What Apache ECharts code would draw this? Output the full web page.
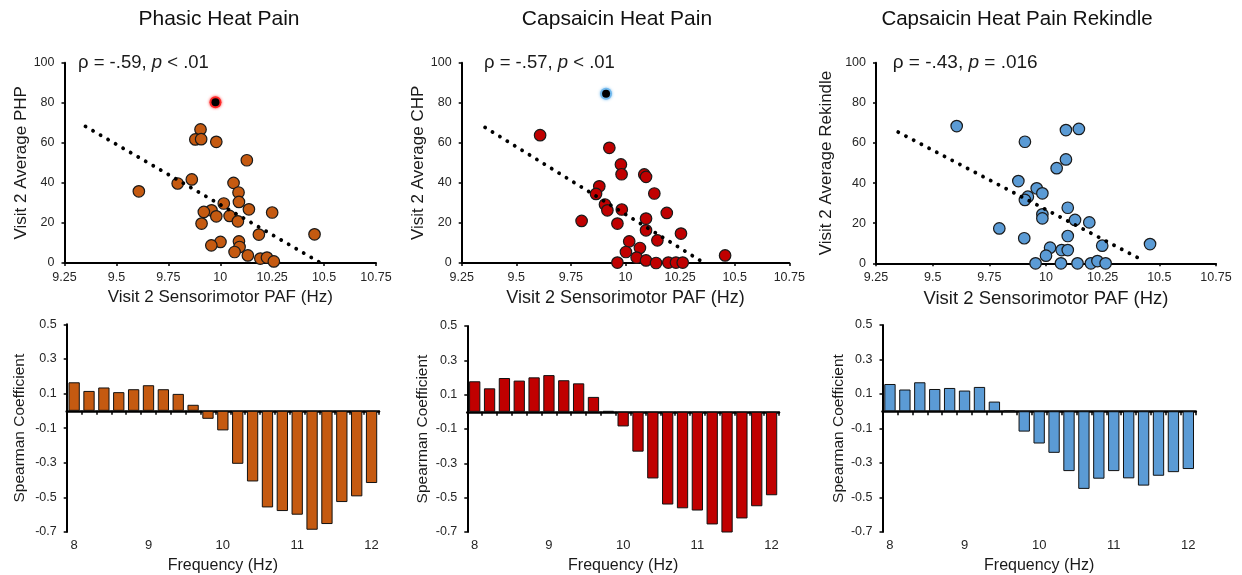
<!DOCTYPE html>
<html>
<head>
<meta charset="utf-8">
<script src="https://cdn.jsdelivr.net/npm/echarts@6/dist/echarts.min.js"></script>
<style>
  html, body { margin: 0; padding: 0; background: #fff; }
  #chart { width: 1242px; height: 575px; }
</style>
</head>
<body>
<div id="chart"></div>
<script>
// ---- Scatter data: Visit 2 sensorimotor PAF (Hz) vs. average pain rating ----
const phpPoints = [[9.905,66.7],[9.88,61.7],[9.908,61.8],[9.981,60.5],[10.128,51.3],[9.863,41.7],[9.795,39.7],[9.608,35.8],[10.064,40],[10.088,35.2],[10.09,30.5],[10.017,29.7],[10.138,26.8],[10.25,25.2],[9.958,26.3],[9.921,25.5],[9.981,23.3],[10.045,23.5],[10.085,20.8],[9.91,19.7],[10.186,14.2],[10.454,14.3],[10.09,10.8],[10.001,10.5],[9.957,8.8],[10.093,8],[10.069,5.5],[10.133,3.8],[10.193,2.2],[10.225,2.7],[10.258,0.8]];
const phpOutlier = [[9.977,80.2]];
const phpTrend = [[9.351,68.2],[10.476,0.5]];

const chpPoints = [[9.926,57.5],[9.609,63.8],[9.799,21],[9.979,49.2],[9.982,44.3],[10.086,44.2],[10.094,43],[10.132,34.7],[9.88,38.3],[9.865,34.5],[9.906,29.2],[9.917,26.3],[9.983,26.7],[9.963,19.7],[10.094,22.2],[10.094,16.3],[10.189,25],[10.146,11.3],[10.254,14.7],[10.017,10.8],[10.066,7.5],[10.002,5.5],[10.051,2.7],[10.094,1.3],[9.963,0.2],[10.14,0],[10.196,0.2],[10.231,0.2],[10.262,0.2],[10.456,3.8]];
const chpOutlier = [[9.911,84.5]];
const chpTrend = [[9.357,67.7],[10.353,0.5]];

const rekPoints = [[10.088,66.4],[10.145,67],[9.907,60.6],[10.088,51.8],[10.047,47.4],[9.878,41],[9.959,37.4],[9.984,34.9],[9.92,33.2],[9.907,31.6],[10.096,27.7],[9.984,24.4],[9.984,22.4],[10.128,21.6],[10.191,20.4],[9.794,17.4],[9.904,12.5],[10.096,13.6],[10.248,8.8],[10.018,7.8],[10.069,6.6],[10.096,6.6],[10,3.8],[9.954,0],[10.066,0],[10.139,0],[10.198,0],[10.227,1.1],[10.263,0],[9.606,68.4],[10.459,9.6]];
const rekTrend = [[9.348,65.4],[10.43,1.3]];

// ---- Spearman coefficient by frequency bin ----
const freqBins = ['8','8.2','8.4','8.6','8.8','9','9.2','9.4','9.6','9.8','10','10.2','10.4','10.6','10.8','11','11.2','11.4','11.6','11.8','12'];
const phpRho = [0.165,0.115,0.135,0.108,0.125,0.148,0.125,0.098,0.035,-0.046,-0.113,-0.306,-0.408,-0.558,-0.579,-0.6,-0.687,-0.654,-0.527,-0.494,-0.417];
const chpRho = [0.178,0.137,0.197,0.182,0.201,0.214,0.184,0.166,0.087,0.005,-0.085,-0.232,-0.388,-0.54,-0.562,-0.575,-0.656,-0.706,-0.621,-0.55,-0.486];
const rekRho = [0.158,0.126,0.168,0.129,0.135,0.12,0.141,0.056,0.002,-0.118,-0.187,-0.241,-0.347,-0.45,-0.391,-0.347,-0.389,-0.431,-0.374,-0.353,-0.335];
const rhoTicks = [0.5, 0.3, 0.1, -0.1, -0.3, -0.5, -0.7];

// ---- Text ----
const panelTitles = ['Phasic Heat Pain', 'Capsaicin Heat Pain', 'Capsaicin Heat Pain Rekindle'];
const yNames = ['Visit 2 Average PHP', 'Visit 2 Average CHP', 'Visit 2 Average Rekindle'];
const xName = 'Visit 2 Sensorimotor PAF (Hz)';
const statText = [['-.59', '<', '.01'], ['-.57', '<', '.01'], ['-.43', '=', '.016']];

const FONT = "'Liberation Sans', Arial, sans-serif";
const ORANGE = '#C55A11', RED = '#C00000', BLUE = '#5B9BD5';
const colors = [ORANGE, RED, BLUE];

const scatterGrids = [
  { left: 64.5, top: 62.7, width: 311.5, height: 200.3 },
  { left: 461.7, top: 62.7, width: 327.6, height: 200.3 },
  { left: 876, top: 62.7, width: 340, height: 200.6 }
];
const barGrids = [
  { left: 66.7, top: 324.3, width: 312.3, height: 208 },
  { left: 467.3, top: 326, width: 311.7, height: 207.3 },
  { left: 882.5, top: 325, width: 313.3, height: 208.3 }
];
const nameFont = [17, 18, 18.5];
const yNameGap = [30, 34, 41];
const barYNameGap = [39, 37, 36];

const grid = [], xAxis = [], yAxis = [], series = [];
const axisLineStyle = { color: '#000', width: 2 };
const tickLabel = { color: '#262626', fontSize: 12.5, fontFamily: FONT };

// Scatter panels
scatterGrids.forEach((g, i) => {
  grid.push(g);
  xAxis.push({
    type: 'value', gridIndex: i, min: 9.25, max: 10.75, interval: 0.25,
    axisLine: { show: true, onZero: false, lineStyle: axisLineStyle },
    axisTick: { show: true, length: 3, lineStyle: { color: '#000', width: 1.5 } },
    axisLabel: Object.assign({ margin: 8 }, tickLabel),
    splitLine: { show: false },
    name: xName, nameLocation: 'middle', nameGap: 26,
    nameTextStyle: { fontSize: nameFont[i], color: '#1a1a1a', fontFamily: FONT }
  });
  yAxis.push({
    type: 'value', gridIndex: i, min: 0, max: 100, interval: 20,
    axisLine: { show: true, onZero: false, lineStyle: axisLineStyle },
    axisTick: { show: true, length: 3, lineStyle: { color: '#000', width: 1.5 } },
    axisLabel: Object.assign({ margin: 10 }, tickLabel),
    splitLine: { show: false },
    name: yNames[i], nameLocation: 'middle', nameGap: yNameGap[i], nameRotate: 90,
    nameTextStyle: { fontSize: 17, color: '#1a1a1a', fontFamily: FONT }
  });
});

const pointSets = [phpPoints, chpPoints, rekPoints];
const trendSets = [phpTrend, chpTrend, rekTrend];
pointSets.forEach((pts, i) => {
  series.push({
    type: 'scatter', xAxisIndex: i, yAxisIndex: i, data: pts,
    symbol: 'circle', symbolSize: 11.5, z: 2,
    itemStyle: { color: colors[i], borderColor: '#1a1a1a', borderWidth: 1.2, opacity: 1 }
  });
  series.push({
    type: 'line', xAxisIndex: i, yAxisIndex: i, data: trendSets[i],
    showSymbol: false, symbol: 'none', z: 4, silent: true,
    lineStyle: { color: '#000', width: 3.8, type: [0.1, 8.6], cap: 'round' }
  });
});
// Highlighted participants: coloured halo under a black dot
[[phpOutlier, '#ff2020', 0], [chpOutlier, '#6cb6ec', 1]].forEach(([pts, glow, i]) => {
  series.push({
    type: 'scatter', xAxisIndex: i, yAxisIndex: i, data: pts,
    symbol: 'circle', symbolSize: 12, z: 3,
    itemStyle: { color: glow, opacity: 0.9, shadowBlur: 3, shadowColor: glow }
  });
  series.push({
    type: 'scatter', xAxisIndex: i, yAxisIndex: i, data: pts,
    symbol: 'circle', symbolSize: 8, z: 3,
    itemStyle: { color: '#000', opacity: 1 }
  });
});

// Bar panels
const rhoSets = [phpRho, chpRho, rekRho];
barGrids.forEach((g, k) => {
  const gi = 3 + k;
  grid.push(g);
  const lineAxis = xAxis.length;
  xAxis.push({
    type: 'category', gridIndex: gi, data: freqBins, position: 'bottom',
    axisLine: { show: true, onZero: true, lineStyle: { color: '#000', width: 2.5 } },
    axisTick: { show: true, interval: 0, length: 4, lineStyle: { color: '#000', width: 1.5 } },
    axisLabel: { show: false }, splitLine: { show: false }
  });
  xAxis.push({
    type: 'category', gridIndex: gi, data: freqBins, position: 'bottom',
    axisLine: { show: false, onZero: false }, axisTick: { show: false },
    axisLabel: Object.assign({ interval: 4, margin: 7 }, tickLabel, { fontSize: 13 }),
    splitLine: { show: false },
    name: 'Frequency (Hz)', nameLocation: 'middle', nameGap: 26,
    nameTextStyle: { fontSize: 16, color: '#1a1a1a', fontFamily: FONT }
  });
  yAxis.push({
    type: 'value', gridIndex: gi, min: -0.7, max: 0.5,
    axisLine: { show: true, onZero: false, lineStyle: axisLineStyle },
    axisTick: { show: true, length: 3, customValues: rhoTicks, lineStyle: { color: '#000', width: 1.5 } },
    axisLabel: Object.assign({ margin: 10, customValues: rhoTicks }, tickLabel),
    splitLine: { show: false },
    name: 'Spearman Coefficient', nameLocation: 'middle', nameGap: barYNameGap[k], nameRotate: 90,
    nameTextStyle: { fontSize: 15.5, color: '#1a1a1a', fontFamily: FONT }
  });
  series.push({
    type: 'bar', xAxisIndex: lineAxis, yAxisIndex: gi, data: rhoSets[k],
    barCategoryGap: '24%',
    itemStyle: { color: colors[k], borderColor: '#111', borderWidth: 1 }
  });
});

// Panel titles and correlation statistics
const titleX = [219, 617, 1017];
const titleSize = [21, 21, 20.5];
const statX = [78, 484, 892.7];
const statSize = [18.5, 18.5, 19];
const graphic = [];
panelTitles.forEach((t, i) => {
  graphic.push({
    type: 'text', x: titleX[i], y: 19,
    style: { text: t, fontSize: titleSize[i], fontFamily: FONT, fill: '#111', align: 'center', verticalAlign: 'middle' }
  });
  const [r, op, p] = statText[i];
  graphic.push({
    type: 'text', x: statX[i], y: 63,
    style: {
      text: '{n|ρ = ' + r + ', }{i|p}{n| ' + op + ' ' + p + '}',
      align: 'left', verticalAlign: 'middle',
      rich: {
        n: { fontSize: statSize[i], fontFamily: FONT, fill: '#1a1a1a' },
        i: { fontSize: statSize[i], fontFamily: FONT, fontStyle: 'italic', fill: '#1a1a1a' }
      }
    }
  });
});

const chart = echarts.init(document.getElementById('chart'), null, { renderer: 'canvas' });
chart.setOption({
  animation: false,
  backgroundColor: '#fff',
  textStyle: { fontFamily: FONT },
  grid, xAxis, yAxis, series, graphic
});
</script>
</body>
</html>
